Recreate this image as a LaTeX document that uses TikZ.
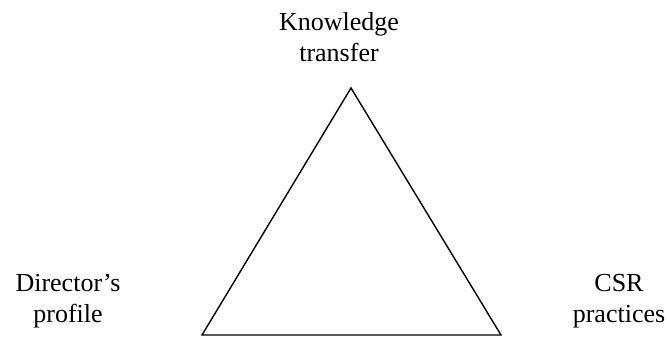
\documentclass[tikz,border=0pt]{standalone}
\usepackage{fontspec}
\setmainfont{Liberation Serif}
\usepackage{tikz}

\begin{document}
\begin{tikzpicture}[
        x=1pt, y=-1pt,
        corner/.style={align=center, inner sep=0pt, font=\fontsize{26}{30.5}\selectfont},
        side/.style={line width=1.4pt, line join=miter, black}
    ]
        \useasboundingbox (0,0) rectangle (667,338);

        \coordinate (top) at (351,88);
        \coordinate (left) at (202,335);
        \coordinate (right) at (501,335);

        \node[corner] (knowledge) at (339,37) {Knowledge\\transfer};
        \node[corner] (director) at (68,301) {Director’s\\profile};
        \node[corner] (csr) at (619,301) {CSR\\practices};

        \draw[side] (top) -- (left) -- (right) -- cycle;
    \end{tikzpicture}
\end{document}
